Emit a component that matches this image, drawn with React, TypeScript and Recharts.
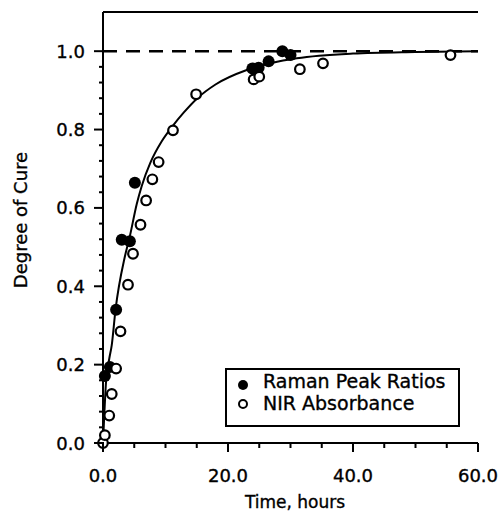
import { ComposedChart, Line, ReferenceLine, Scatter, XAxis, YAxis } from "recharts";

// fitted cure curve
const curveTime = [0, 0.2, 0.5, 1.0, 1.4, 2.0, 3.5, 4.3, 5.4, 6.2, 7.6, 9.4, 11.2, 12.9, 15.1, 18, 23, 27, 31, 40, 50, 60];
const curveCure = [0, 0.07, 0.16, 0.215, 0.25, 0.34, 0.476, 0.528, 0.61, 0.656, 0.716, 0.77, 0.81, 0.843, 0.88, 0.915, 0.952, 0.97, 0.982, 0.994, 0.998, 1.0];

const ramanTime = [0.3, 1.1, 2.1, 3.0, 4.3, 5.1, 23.9, 24.9, 26.5, 28.7, 30.0];
const ramanCure = [0.171, 0.194, 0.34, 0.519, 0.515, 0.664, 0.956, 0.958, 0.974, 1.0, 0.99];

const nirTime = [0, 0.3, 1.0, 1.4, 2.1, 2.8, 4.0, 4.8, 6.0, 6.9, 7.9, 8.9, 11.2, 14.9, 24.1, 25.0, 31.5, 35.2, 55.6];
const nirCure = [0, 0.02, 0.07, 0.125, 0.19, 0.285, 0.404, 0.483, 0.557, 0.619, 0.673, 0.717, 0.798, 0.89, 0.928, 0.935, 0.954, 0.969, 0.99];

const xTicks = [0, 5, 10, 15, 20, 25, 30, 35, 40, 45, 50, 55, 60];
const xLabelTicks = [0, 20, 40, 60];
const yTicks = [0, 0.04, 0.08, 0.12, 0.16, 0.2, 0.24, 0.28, 0.32, 0.36, 0.4, 0.44, 0.48, 0.52, 0.56, 0.6, 0.64, 0.68, 0.72, 0.76, 0.8, 0.84, 0.88, 0.92, 0.96, 1.0];
const yLabelTicks = [0, 0.2, 0.4, 0.6, 0.8, 1.0];

const FONT = "DejaVu Sans";
const textStyle = { fontFamily: FONT, fill: "#000", stroke: "#000", strokeWidth: 0.35 };

const curveData = curveTime.map((t, i) => ({ t, cure: curveCure[i] }));
const ramanData = ramanTime.map((t, i) => ({ t, cure: ramanCure[i] }));
const nirData = nirTime.map((t, i) => ({ t, cure: nirCure[i] }));

const isLabelled = (list: number[], v: number) => list.some((m) => Math.abs(m - v) < 1e-6);

function BottomTick(props: any) {
  const { x, y, payload } = props;
  const major = isLabelled(xLabelTicks, payload.value);
  return (
    <g>
      <line x1={x} y1={y} x2={x} y2={y + (major ? 9 : 5)} stroke="#000" strokeWidth={2} />
      {major && (
        <text x={x} y={y + 39} textAnchor="middle" fontSize={18} style={textStyle}>
          {payload.value.toFixed(1)}
        </text>
      )}
    </g>
  );
}

function LeftTick(props: any) {
  const { x, y, payload } = props;
  const major = isLabelled(yLabelTicks, payload.value);
  return (
    <g>
      <line x1={x - (major ? 9 : 4)} y1={y} x2={x + 1} y2={y} stroke="#000" strokeWidth={2} />
      {major && (
        <text x={x - 18} y={y + 6.5} textAnchor="end" fontSize={18} style={textStyle}>
          {payload.value.toFixed(1)}
        </text>
      )}
    </g>
  );
}

function RightTick(props: any) {
  const { x, y, payload } = props;
  const major = isLabelled(yLabelTicks, payload.value);
  return <line x1={x} y1={y} x2={x - (major ? 8 : 4)} y2={y} stroke="#000" strokeWidth={2} />;
}

const filledDot = (p: any) => <circle cx={p.cx} cy={p.cy} r={6} fill="#000" />;
const openDot = (p: any) => <circle cx={p.cx} cy={p.cy} r={4.8} fill="#fff" stroke="#000" strokeWidth={2.2} />;

export default function App() {
  return (
    <div style={{ position: "absolute", left: 0, top: 0, width: 503, height: 516, background: "#fff" }}>
      <ComposedChart width={503} height={516} margin={{ top: 12, right: 25, bottom: 0, left: 0 }}>
        <XAxis
          dataKey="t"
          type="number"
          domain={[0, 60]}
          ticks={xTicks}
          interval={0}
          height={73}
          tickSize={0}
          tickMargin={0}
          tickLine={false}
          axisLine={{ stroke: "#000", strokeWidth: 2 }}
          tick={<BottomTick />}
          label={{
            content: () => (
              <text x={295} y={508} textAnchor="middle" fontSize={17} style={textStyle}>
                Time, hours
              </text>
            ),
          }}
        />
        <YAxis
          type="number"
          domain={[0, 1.1]}
          ticks={yTicks}
          interval={0}
          width={103}
          tickSize={0}
          tickMargin={0}
          tickLine={false}
          axisLine={{ stroke: "#000", strokeWidth: 2 }}
          tick={<LeftTick />}
          label={{
            content: () => (
              <text x={27} y={220} transform="rotate(-90, 27, 220)" textAnchor="middle" fontSize={18} style={textStyle}>
                Degree of Cure
              </text>
            ),
          }}
        />
        <YAxis
          yAxisId="right"
          orientation="right"
          type="number"
          domain={[0, 1.1]}
          ticks={yTicks}
          interval={0}
          width={0}
          tickSize={0}
          tickMargin={0}
          tickLine={false}
          axisLine={{ stroke: "#000", strokeWidth: 2 }}
          tick={<RightTick />}
        />
        <ReferenceLine y={1.1} stroke="#000" strokeWidth={2} />
        <ReferenceLine y={1} stroke="#000" strokeWidth={2.5} strokeDasharray="14 9" />
        <Line data={curveData} dataKey="cure" type="monotone" stroke="#000" strokeWidth={2} dot={false} isAnimationActive={false} />
        <Scatter data={ramanData} dataKey="cure" shape={filledDot} isAnimationActive={false} />
        <Scatter data={nirData} dataKey="cure" shape={openDot} isAnimationActive={false} />
      </ComposedChart>
      <svg width={235} height={59} style={{ position: "absolute", left: 225, top: 368 }}>
        <rect x={1} y={1} width={233} height={57} fill="#fff" stroke="#000" strokeWidth={2} />
        <circle cx={18} cy={17} r={5} fill="#000" />
        <text x={38} y={20} fontSize={19} style={textStyle}>Raman Peak Ratios</text>
        <circle cx={18} cy={36} r={4} fill="#fff" stroke="#000" strokeWidth={2} />
        <text x={38} y={42} fontSize={19} style={textStyle}>NIR Absorbance</text>
      </svg>
    </div>
  );
}
